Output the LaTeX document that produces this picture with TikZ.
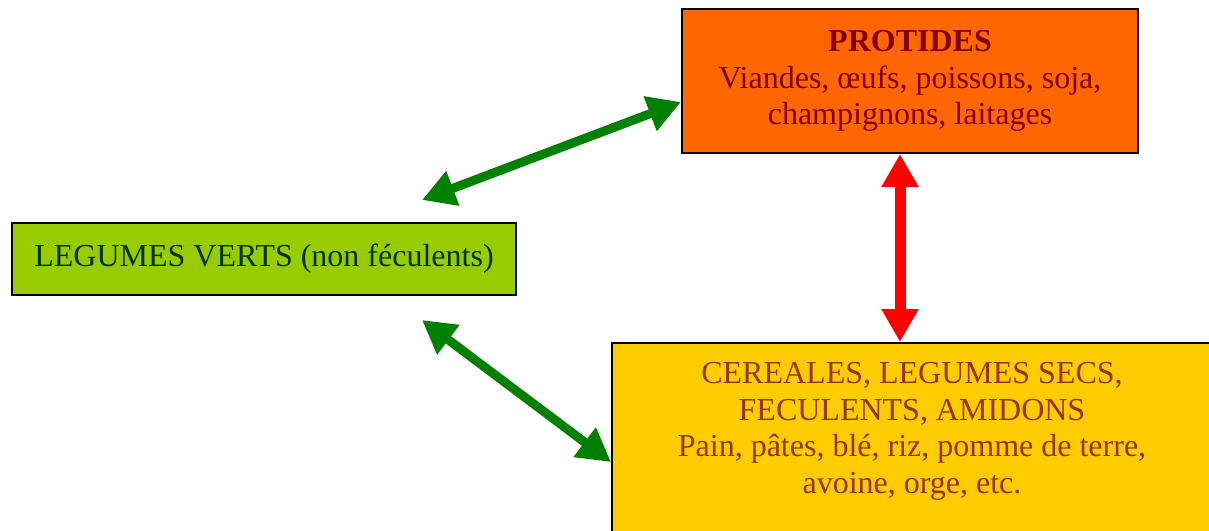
\documentclass[tikz,border=0pt]{standalone}
\usepackage{fontspec}
\setmainfont{Liberation Serif}
\usepackage{xcolor}
\usepackage{tikz}
\tikzset{>=latex}
\usetikzlibrary{arrows.meta, positioning}

\definecolor{protfill}{HTML}{FF6600}
\definecolor{protink}{HTML}{800000}
\definecolor{legfill}{HTML}{99CC00}
\definecolor{legink}{HTML}{003300}
\definecolor{cerfill}{HTML}{FFCC00}
\definecolor{cerink}{HTML}{993300}
\definecolor{arrowgreen}{HTML}{008000}

\begin{document}
\begin{tikzpicture}[x=0.5pt, y=-0.5pt,
  foodbox/.style={draw=black, line width=1pt, inner sep=0pt, align=center,
    font=\fontsize{16}{18.3}\selectfont},
  boxtext/.style={inner sep=0pt, align=center, font=\fontsize{16}{18.3}\selectfont},
  greenlink/.style={draw=arrowgreen, line width=4.5pt,
    {Triangle[length=16.5pt, width=17.5pt]}-{Triangle[length=16.5pt, width=17.5pt]}},
  redlink/.style={draw=red, line width=5.5pt,
    {Triangle[length=16.5pt, width=17.5pt]}-{Triangle[length=16.5pt, width=17.5pt]}}]

 \useasboundingbox (0,0) rectangle (1209,530);
 \clip (0,0) rectangle (1209,530);

 % Boxes
 \node[foodbox, fill=protfill, text=protink, minimum width=228pt, minimum height=72pt]
   (protides) at (910,81)
   {\textbf{PROTIDES}\\Viandes, œufs, poissons, soja,\\champignons, laitages};

 \node[foodbox, fill=legfill, text=legink, minimum width=252pt, minimum height=36pt]
   (legumes) at (264,259) {LEGUMES VERTS (non féculents)};

 \node[foodbox, fill=cerfill, minimum width=300pt, minimum height=98.5pt]
   (cereales) at (912,441.5) {};
 \node[boxtext, text=cerink, anchor=north] (cerealestext) at (912,362)
   {CEREALES, LEGUMES SECS,\\FECULENTS, AMIDONS\\Pain, pâtes, blé, riz, pomme de terre,\\avoine, orge, etc.};

 % Arrows
 \coordinate (legtop) at (422,200);
 \coordinate (legbot) at (422,320);
 \draw[greenlink] (legtop) -- ([yshift=-10.5pt]protides.west);
 \draw[greenlink] (legbot) -- ([yshift=-10.25pt]cereales.west);
 \draw[redlink] ([xshift=-5pt]protides.south) -- ([xshift=-5pt]protides.south |- cereales.north);

\end{tikzpicture}
\end{document}
